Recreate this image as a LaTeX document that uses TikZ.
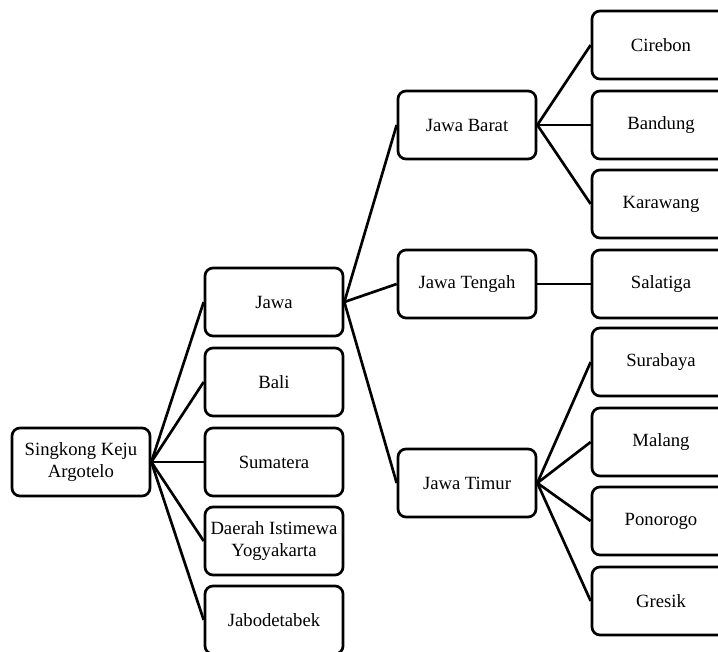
\documentclass[tikz,border=0pt]{standalone}
\usepackage{fontspec}
\setmainfont{Liberation Serif}
\begin{document}
\begin{tikzpicture}[x=0.75pt,y=-0.75pt,
  box/.style={draw,line width=2pt,rounded corners=6pt,minimum width=103.5pt,
    minimum height=51pt,inner sep=0pt,align=center,
    font=\fontsize{14}{16.5}\selectfont},
  link/.style={line width=2pt}]
\useasboundingbox (0,0) rectangle (718,652);
\clip (0,0) rectangle (718,652);

% root
\node[box] (root) at (81,462) {Singkong Keju\\Argotelo};

% pulau
\node[box] (jawa) at (274,302) {Jawa};
\node[box] (bali) at (274,382) {Bali};
\node[box] (sumatera) at (274,462) {Sumatera};
\node[box] (diy) at (274,541) {Daerah Istimewa\\Yogyakarta};
\node[box] (jabo) at (274,620) {Jabodetabek};

% provinsi
\node[box] (barat) at (467,125) {Jawa Barat};
\node[box] (tengah) at (467,284) {Jawa Tengah};
\node[box] (timur) at (467,483) {Jawa Timur};

% kota
\node[box] (cirebon) at (661,45) {Cirebon};
\node[box] (bandung) at (661,125) {Bandung};
\node[box] (karawang) at (661,204) {Karawang};
\node[box] (salatiga) at (661,284) {Salatiga};
\node[box] (surabaya) at (661,362) {Surabaya};
\node[box] (malang) at (661,442) {Malang};
\node[box] (ponorogo) at (661,521) {Ponorogo};
\node[box] (gresik) at (661,601) {Gresik};

\foreach \n in {jawa,bali,sumatera,diy,jabo}
  \draw[link] (root.east) -- (\n.west);

\foreach \n in {barat,tengah,timur}
  \draw[link] (jawa.east) -- (\n.west);

\foreach \n in {cirebon,bandung,karawang}
  \draw[link] (barat.east) -- (\n.west);
\draw[link] (tengah.east) -- (salatiga.west);
\foreach \n in {surabaya,malang,ponorogo,gresik}
  \draw[link] (timur.east) -- (\n.west);

\end{tikzpicture}
\end{document}
